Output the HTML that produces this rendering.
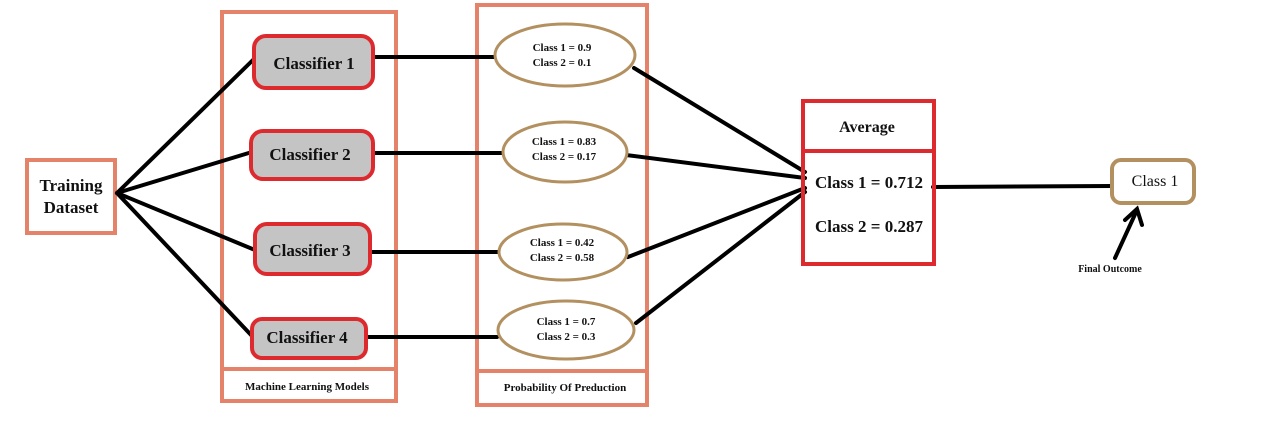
<!DOCTYPE html>
<html><head><meta charset="utf-8"><style>
html,body{margin:0;padding:0;background:#fff;}
svg{display:block;}
text{font-family:"Liberation Serif",serif;font-weight:bold;fill:#111;}
</style></head><body>
<svg width="1271" height="428" viewBox="0 0 1271 428" xmlns="http://www.w3.org/2000/svg">
<rect x="0" y="0" width="1271" height="428" fill="#fff"/>
<!-- group boxes -->
<rect x="222" y="12" width="174" height="389" fill="none" stroke="#e5836a" stroke-width="4"/>
<line x1="222" y1="369" x2="396" y2="369" stroke="#e5836a" stroke-width="4"/>
<text x="307" y="390" font-size="11" text-anchor="middle">Machine Learning Models</text>
<rect x="477" y="5" width="170" height="400" fill="none" stroke="#e5836a" stroke-width="4"/>
<line x1="477" y1="371" x2="647" y2="371" stroke="#e5836a" stroke-width="4"/>
<text x="565" y="391" font-size="11" text-anchor="middle">Probability Of Preduction</text>
<!-- training -->
<rect x="27" y="160" width="88" height="73" fill="#fff" stroke="#e5836a" stroke-width="4"/>
<text x="71" y="191" font-size="17" text-anchor="middle">Training</text>
<text x="71" y="213" font-size="17" text-anchor="middle">Dataset</text>
<!-- lines -->
<g stroke="#000" stroke-width="4" stroke-linecap="round">
<line x1="117" y1="193" x2="255" y2="58"/>
<line x1="117" y1="193" x2="252" y2="152"/>
<line x1="117" y1="193" x2="255" y2="250"/>
<line x1="117" y1="193" x2="252" y2="336"/>
<line x1="374" y1="57" x2="496" y2="57"/>
<line x1="374" y1="153" x2="503" y2="153"/>
<line x1="370" y1="252" x2="500" y2="252"/>
<line x1="368" y1="337" x2="497" y2="337"/>
<line x1="634" y1="68" x2="805" y2="172"/>
<line x1="626" y1="155" x2="805" y2="178"/>
<line x1="628" y1="257" x2="805" y2="188"/>
<line x1="636" y1="323" x2="805" y2="192"/>
<line x1="933" y1="187" x2="1112" y2="186"/>
<line x1="1115" y1="258" x2="1137" y2="210"/>
<polyline points="1125,220 1137,209 1142,225" fill="none"/>
</g>
<!-- classifiers -->
<g fill="#c4c4c4" stroke="#dc2a2e" stroke-width="4">
<rect x="254" y="36" width="119" height="52" rx="12"/>
<rect x="251" y="131" width="122" height="48" rx="12"/>
<rect x="255" y="224" width="115" height="50" rx="12"/>
<rect x="252" y="319" width="114" height="39" rx="10"/>
</g>
<text x="314" y="69" font-size="17" text-anchor="middle">Classifier 1</text>
<text x="310" y="160" font-size="17" text-anchor="middle">Classifier 2</text>
<text x="310" y="256" font-size="17" text-anchor="middle">Classifier 3</text>
<text x="307" y="343" font-size="17" text-anchor="middle">Classifier 4</text>
<!-- ellipses -->
<g fill="#fff" stroke="#b39060" stroke-width="3">
<ellipse cx="565" cy="55" rx="70" ry="31"/>
<ellipse cx="565" cy="152" rx="62" ry="30"/>
<ellipse cx="563" cy="252" rx="64" ry="28"/>
<ellipse cx="566" cy="330" rx="68" ry="29"/>
</g>
<g font-size="11" text-anchor="middle">
<text x="562" y="51">Class 1 = 0.9</text><text x="562" y="66">Class 2 = 0.1</text>
<text x="564" y="145">Class 1 = 0.83</text><text x="564" y="160">Class 2 = 0.17</text>
<text x="562" y="246">Class 1 = 0.42</text><text x="562" y="261">Class 2 = 0.58</text>
<text x="566" y="325">Class 1 = 0.7</text><text x="566" y="340">Class 2 = 0.3</text>
</g>
<!-- average -->
<rect x="803" y="101" width="131" height="163" fill="none" stroke="#dc2a2e" stroke-width="4"/>
<line x1="803" y1="151" x2="934" y2="151" stroke="#dc2a2e" stroke-width="4"/>
<text x="867" y="132" font-size="16" text-anchor="middle">Average</text>
<text x="869" y="188" font-size="17" text-anchor="middle">Class 1 = 0.712</text>
<text x="869" y="232" font-size="17" text-anchor="middle">Class 2 = 0.287</text>
<!-- result -->
<rect x="1112" y="160" width="82" height="43" rx="9" fill="#fff" stroke="#b39060" stroke-width="4"/>
<text x="1155" y="186" font-size="16" font-weight="normal" text-anchor="middle" style="font-weight:normal">Class 1</text>
<text x="1110" y="272" font-size="10" text-anchor="middle">Final Outcome</text>
</svg>
</body></html>
